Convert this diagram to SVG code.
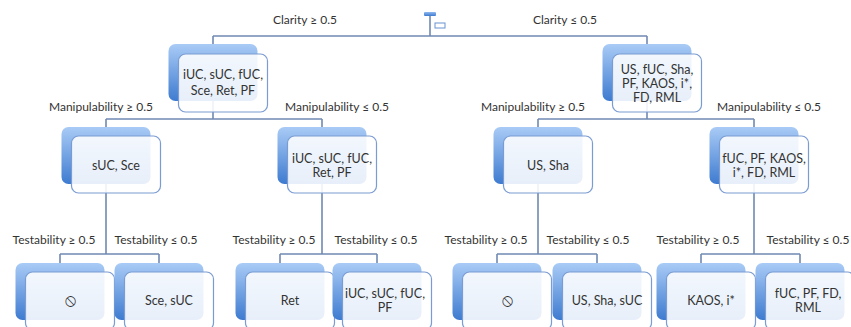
<svg xmlns="http://www.w3.org/2000/svg" width="851" height="327" viewBox="0 0 851 327">
<defs>
<linearGradient id="bg" x1="0" y1="0" x2="0" y2="1">
<stop offset="0" stop-color="#a9cbf6"/>
<stop offset="1" stop-color="#3e7bd0"/>
</linearGradient>
<linearGradient id="ig" x1="0" y1="0" x2="0" y2="1">
<stop offset="0" stop-color="#8fb8ef"/>
<stop offset="1" stop-color="#3e7bd0"/>
</linearGradient>
</defs>
<style>
.back{fill:url(#bg);}
.front{fill:#ffffff;fill-opacity:0.88;stroke:#7a9cd2;stroke-width:1.2;}
.conn{fill:none;stroke:#7189b3;stroke-width:1.6;}
.lbl{font-family:"Lato","Liberation Sans",sans-serif;font-size:12px;fill:#333333;text-anchor:middle;}
.nt{font-family:"Lato","Liberation Sans",sans-serif;font-size:12.5px;fill:#333333;text-anchor:middle;}
.sym{font-family:"DejaVu Sans","Noto Sans",sans-serif;font-size:17px;fill:#333333;text-anchor:middle;}
</style>
<rect width="851" height="327" fill="#ffffff"/>
<g id="connectors">
<path class="conn" d="M430,15V36M213,36H647M213,36V45M647,36V45"/>
<path class="conn" d="M213,100V119M106,119H322M106,119V128M322,119V128"/>
<path class="conn" d="M647,100V119M538,119H754M538,119V128M754,119V128"/>
<path class="conn" d="M106,180V254M60,254H159M60,254V264M159,254V264"/>
<path class="conn" d="M322,180V254M280,254H377M280,254V264M377,254V264"/>
<path class="conn" d="M538,180V254M497,254H597M497,254V264M597,254V264"/>
<path class="conn" d="M754,180V254M701,254H800M701,254V264M800,254V264"/>
</g>
<g id="root">
<rect x="424" y="12" width="12" height="4" rx="1" fill="url(#ig)"/>
<rect x="435" y="23" width="10" height="5" fill="#ffffff" stroke="#6b93d0" stroke-width="1"/>
</g>
<g id="labels">
<text class="lbl" x="305" y="24">Clarity ≥ 0.5</text>
<text class="lbl" x="565" y="24">Clarity ≤ 0.5</text>
<text class="lbl" x="101" y="111">Manipulability ≥ 0.5</text>
<text class="lbl" x="337" y="111">Manipulability ≤ 0.5</text>
<text class="lbl" x="533" y="111">Manipulability ≥ 0.5</text>
<text class="lbl" x="769" y="111">Manipulability ≤ 0.5</text>
<text class="lbl" x="54" y="244">Testability ≥ 0.5</text>
<text class="lbl" x="156" y="244">Testability ≤ 0.5</text>
<text class="lbl" x="274" y="244">Testability ≥ 0.5</text>
<text class="lbl" x="376" y="244">Testability ≤ 0.5</text>
<text class="lbl" x="486" y="244">Testability ≥ 0.5</text>
<text class="lbl" x="588" y="244">Testability ≤ 0.5</text>
<text class="lbl" x="698" y="244">Testability ≥ 0.5</text>
<text class="lbl" x="808" y="244">Testability ≤ 0.5</text>
</g>
<g id="n1">
<rect class="back" x="168.5" y="44" width="89" height="57" rx="7"/>
<rect class="front" x="178.5" y="54" width="89" height="58" rx="7"/>
<text class="nt" x="223" y="79">iUC, sUC, fUC,</text>
<text class="nt" x="223" y="95">Sce, Ret, PF</text>
</g>
<g id="n2">
<rect class="back" x="602.5" y="44" width="89" height="57" rx="7"/>
<rect class="front" x="612.5" y="54" width="89" height="58" rx="7"/>
<text class="nt" x="657" y="74">US, fUC, Sha,</text>
<text class="nt" x="657" y="88">PF, KAOS, i*,</text>
<text class="nt" x="657" y="102">FD, RML</text>
</g>
<g id="n3">
<rect class="back" x="61.5" y="127" width="89" height="57" rx="7"/>
<rect class="front" x="71.5" y="136" width="89" height="57" rx="7"/>
<text class="nt" x="116" y="170">sUC, Sce</text>
</g>
<g id="n4">
<rect class="back" x="277.5" y="127" width="89" height="57" rx="7"/>
<rect class="front" x="287.5" y="136" width="89" height="57" rx="7"/>
<text class="nt" x="332" y="163">iUC, sUC, fUC,</text>
<text class="nt" x="332" y="177">Ret, PF</text>
</g>
<g id="n5">
<rect class="back" x="493.5" y="127" width="89" height="57" rx="7"/>
<rect class="front" x="503.5" y="136" width="89" height="57" rx="7"/>
<text class="nt" x="548" y="170">US, Sha</text>
</g>
<g id="n6">
<rect class="back" x="709.5" y="127" width="89" height="57" rx="7"/>
<rect class="front" x="719.5" y="136" width="89" height="57" rx="7"/>
<text class="nt" x="764" y="163">fUC, PF, KAOS,</text>
<text class="nt" x="764" y="177">i*, FD, RML</text>
</g>
<g id="n7">
<rect class="back" x="15.5" y="263" width="89" height="57" rx="7"/>
<rect class="front" x="25.5" y="272" width="89" height="58" rx="7"/>
<text class="sym" x="70" y="306">⦸</text>
</g>
<g id="n8">
<rect class="back" x="114.5" y="263" width="89" height="57" rx="7"/>
<rect class="front" x="124.5" y="272" width="89" height="58" rx="7"/>
<text class="nt" x="169" y="305">Sce, sUC</text>
</g>
<g id="n9">
<rect class="back" x="235.5" y="263" width="89" height="57" rx="7"/>
<rect class="front" x="245.5" y="272" width="89" height="58" rx="7"/>
<text class="nt" x="290" y="305">Ret</text>
</g>
<g id="n10">
<rect class="back" x="332.5" y="263" width="89" height="57" rx="7"/>
<rect class="front" x="342.5" y="272" width="89" height="58" rx="7"/>
<text class="nt" x="385" y="298">iUC, sUC, fUC,</text>
<text class="nt" x="385" y="312">PF</text>
</g>
<g id="n11">
<rect class="back" x="452.5" y="263" width="89" height="57" rx="7"/>
<rect class="front" x="462.5" y="272" width="89" height="58" rx="7"/>
<text class="sym" x="507" y="306">⦸</text>
</g>
<g id="n12">
<rect class="back" x="552.5" y="263" width="89" height="57" rx="7"/>
<rect class="front" x="562.5" y="272" width="89" height="58" rx="7"/>
<text class="nt" x="607" y="305">US, Sha, sUC</text>
</g>
<g id="n13">
<rect class="back" x="656.5" y="263" width="89" height="57" rx="7"/>
<rect class="front" x="666.5" y="272" width="89" height="58" rx="7"/>
<text class="nt" x="711" y="305">KAOS, i*</text>
</g>
<g id="n14">
<rect class="back" x="755.5" y="263" width="89" height="57" rx="7"/>
<rect class="front" x="765.5" y="272" width="89" height="58" rx="7"/>
<text class="nt" x="808" y="298">fUC, PF, FD,</text>
<text class="nt" x="808" y="312">RML</text>
</g>
</svg>
